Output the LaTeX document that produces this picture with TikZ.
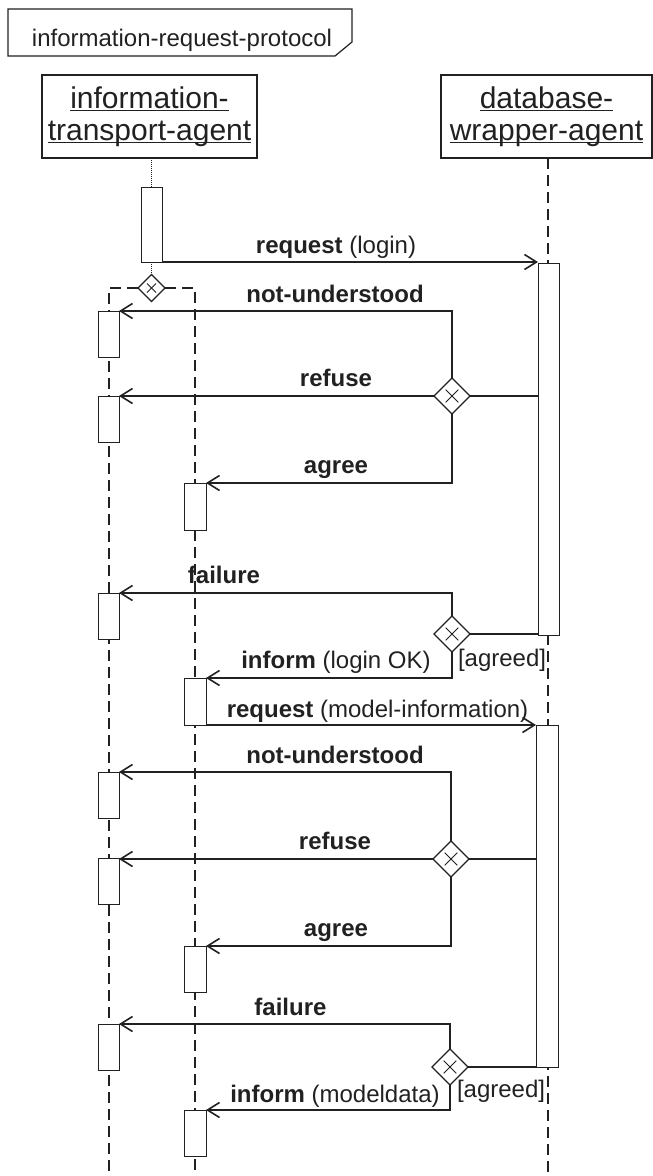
\documentclass[tikz,border=0pt]{standalone}
\usepackage{fontspec}
\setmainfont{Liberation Sans}
\usetikzlibrary{shapes.geometric,arrows.meta}
\definecolor{lc}{gray}{0.13}
\newsavebox\ulbox
\newcommand\ulx[1]{\sbox\ulbox{#1}\rlap{\rule[-3pt]{\wd\ulbox}{1.2pt}}\usebox\ulbox}
\newcommand\choicex[2]{\draw[draw=lc,line width=1pt] (#1.center) +(-#2,-#2) -- +(#2,#2) (#1.center) +(-#2,#2) -- +(#2,-#2);}
\begin{document}
\begin{tikzpicture}[x=1pt,y=-1pt,
  every node/.style={inner sep=0pt, outer sep=0pt, text=lc},
  lbl/.style={anchor=base, font=\fontsize{24}{28}\selectfont},
  lifebox/.style={draw=lc, line width=1.2pt, fill=white, minimum width=#1, minimum height=83pt, align=center, font=\fontsize{30}{32}\selectfont},
  act/.style={draw=lc, line width=1pt, fill=white, minimum width=21pt, minimum height=#1},
  choice/.style={diamond, draw=lc, line width=1.2pt, fill=white, minimum width=#1, minimum height=#1},
  msg/.style={draw=lc, line width=1.1pt, -{Straight Barb[length=12pt,width=15pt,line width=1.6pt]}},
  conn/.style={draw=lc, line width=1.1pt},
  life/.style={draw=lc, line width=1.4pt, dash pattern=on 11pt off 6pt},
  dots/.style={draw=lc, line width=0.8pt, dash pattern=on 1pt off 1pt}]
\useasboundingbox (0,0) rectangle (653,1176);

% frame title
\node[lbl] (title) at (182,46) {information-request-protocol};
\draw[conn, line width=1.2pt] (8,9) -- (352,9) -- (352,42) -- (335,56) -- (8,56) -- cycle;

% lifeline heads
\node[lifebox=215pt] (ita) at (149.5,116.5) {\ulx{information-}\\\ulx{transport-agent}};
\node[lifebox=211pt] (dwa) at (546.5,116.5) {\ulx{database-}\\\ulx{wrapper-agent}};

% lifelines
\coordinate (dwaTop) at (548,158);
\coordinate (dwaEnd) at (548,1176);
\draw[life] (dwaTop) -- (dwaEnd);

\node[act=75pt] (ia) at (151.5,224.5) {};
\draw[dots] (ia.north |- ita.south) -- (ia.north);
\node[choice=27pt] (d0) at (151.5,288) {};
\draw[dots] (ia.south) -- (d0.north);

\coordinate (lA) at (109,288); \coordinate (lAend) at (109,1176);
\coordinate (lB) at (195,288); \coordinate (lBend) at (195,1176);
\draw[life] (d0.west) -- (lA) -- (lAend);
\draw[life] (d0.east) -- (lB) -- (lBend);

% activation bars
\node[act=372pt] (dba1) at (548.5,449) {};
\node[act=342pt, minimum width=22pt] (dba2) at (547,896) {};
\node[act=46pt] (L1) at (108.5,334) {};
\node[act=46pt] (L2) at (108.5,419) {};
\node[act=46pt] (L3) at (108.5,616) {};
\node[act=46pt] (L4) at (108.5,795) {};
\node[act=46pt] (L5) at (108.5,881) {};
\node[act=46pt] (L6) at (108.5,1047) {};
\node[act=47pt, minimum width=22pt] (R1) at (195,506.5) {};
\node[act=47pt, minimum width=22pt] (R2) at (195,701.5) {};
\node[act=46pt, minimum width=22pt] (R3) at (195,969) {};
\node[act=46pt, minimum width=22pt] (R4) at (195,1133) {};

% choice diamonds
\node[choice=36pt] (d1) at (452,396) {};
\node[choice=36pt] (d2) at (452,634) {};
\node[choice=36pt] (d3) at (451,859) {};
\node[choice=36pt] (d4) at (450,1067) {};
\choicex{d0}{4.5}
\choicex{d1}{6.3}
\choicex{d2}{6.3}
\choicex{d3}{6.3}
\choicex{d4}{6.3}

% messages, first round
\draw[msg] (ia.south east) -- (ia.south east -| dba1.west);
\draw[msg] (d1.north) |- (L1.north east);
\draw[msg] (d1.west) -- (d1.west -| L2.east);
\draw[conn] (d1.east) -- (d1.east -| dba1.west);
\draw[msg] (d1.south) |- (R1.north east);
\draw[msg] (d2.north) |- (L3.north east);
\draw[conn, line width=1.6pt] (d2.east) -- (d2.east -| dba1.west);
\draw[msg] (d2.south) |- (R2.north east);

% messages, second round
\draw[msg] (R2.south east) -- (R2.south east -| dba2.west);
\draw[msg] (d3.north) |- (L4.north east);
\draw[msg] (d3.west) -- (d3.west -| L5.east);
\draw[conn] (d3.east) -- (d3.east -| dba2.west);
\draw[msg] (d3.south) |- (R3.north east);
\draw[msg] (d4.north) |- (L6.north east);
\draw[conn, line width=1.6pt] (d4.east) -- (d4.east -| dba2.west);
\draw[msg] (d4.south) |- (R4.north east);

% labels
\node[lbl] (m1) at (336,253) {\textbf{request} (login)};
\node[lbl] (m2) at (335,302) {\textbf{not-understood}};
\node[lbl] (m3) at (336,386) {\textbf{refuse}};
\node[lbl] (m4) at (336,473) {\textbf{agree}};
\node[lbl] (m5) at (224,583) {\textbf{failure}};
\node[lbl] (m6) at (336,668) {\textbf{inform} (login OK)};
\node[lbl, anchor=base west] (g1) at (458,666) {[agreed]};
\node[lbl] (m7) at (377.5,717) {\textbf{request} (model-information)};
\node[lbl] (m8) at (335,763) {\textbf{not-understood}};
\node[lbl] (m9) at (335,849) {\textbf{refuse}};
\node[lbl] (m10) at (336,936) {\textbf{agree}};
\node[lbl] (m11) at (290.5,1015) {\textbf{failure}};
\node[lbl] (m12) at (335,1102) {\textbf{inform} (modeldata)};
\node[lbl, anchor=base west] (g2) at (457,1097) {[agreed]};
\end{tikzpicture}
\end{document}
